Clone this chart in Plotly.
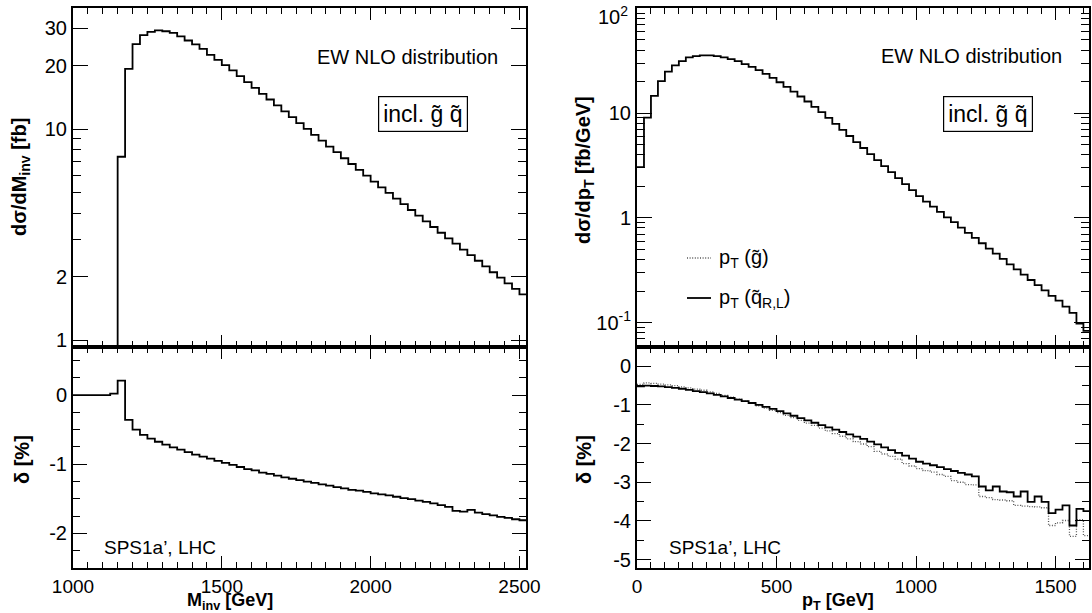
import plotly.graph_objects as go

# ---------------- data ----------------
# left: invariant mass distribution (25 GeV bins, lower edges)
minv_top_lo = list(range(1125, 2525, 25))
minv_top_val = [0.01, 7.4, 19.3, 25.3, 27.9, 28.9, 29.4, 29.1, 28.6, 27.5, 26.3, 25.2, 24.0, 22.5,
                21.3, 20.1, 18.98, 17.84, 16.71, 15.70, 14.71, 13.82, 12.95, 12.13, 11.40, 10.68,
                10.03, 9.40, 8.83, 8.27, 7.78, 7.28, 6.84, 6.41, 6.03, 5.64, 5.30, 4.99, 4.69, 4.41,
                4.14, 3.89, 3.66, 3.44, 3.23, 3.04, 2.87, 2.69, 2.53, 2.38, 2.24, 2.10, 1.98, 1.86,
                1.75, 1.65]
minv_rel_lo = list(range(1000, 2525, 25))
minv_rel_val = [0.0, 0.0, 0.0, 0.0, 0.0, 0.02, 0.21, -0.36, -0.50, -0.575, -0.63, -0.675, -0.715,
                -0.755, -0.79, -0.825, -0.86, -0.89, -0.92, -0.95, -0.98, -1.01, -1.04, -1.07, -1.09,
                -1.12, -1.14, -1.165, -1.19, -1.21, -1.23, -1.25, -1.27, -1.29, -1.31, -1.33, -1.35,
                -1.37, -1.38, -1.40, -1.42, -1.435, -1.45, -1.47, -1.49, -1.505, -1.525, -1.545,
                -1.565, -1.59, -1.615, -1.675, -1.685, -1.66, -1.70, -1.72, -1.74, -1.76, -1.775,
                -1.795, -1.81]
minv_width = 25

# right: pT distribution (25 GeV bins, lower edges)
pt_lo = list(range(0, 1625, 25))
pt_top_val = [3.05, 9.05, 14.6, 20.2, 24.9, 28.5, 31.3, 34.0, 35.0, 35.5,
              35.5, 35.0, 34.0, 32.7, 31.3, 29.3, 27.6, 25.7, 23.7, 21.7,
              19.7, 17.8, 16.05, 14.4, 12.9, 11.45, 10.2, 8.98, 7.87, 6.90,
              6.04, 5.29, 4.64, 4.06, 3.56, 3.12, 2.73, 2.39, 2.10, 1.84,
              1.61, 1.43, 1.28, 1.14, 1.01, 0.908, 0.808, 0.718, 0.643, 0.572,
              0.508, 0.455, 0.405, 0.360, 0.322, 0.287, 0.255, 0.228, 0.203, 0.180,
              0.162, 0.142, 0.124, 0.098, 0.0835]
pt_rel_squark = [-0.52, -0.50, -0.51, -0.52, -0.54, -0.56, -0.58, -0.61, -0.64, -0.67,
                 -0.70, -0.74, -0.78, -0.82, -0.86, -0.90, -0.95, -1.00, -1.05, -1.10,
                 -1.16, -1.22, -1.28, -1.34, -1.40, -1.46, -1.52, -1.58, -1.64, -1.70,
                 -1.76, -1.82, -1.88, -1.95, -2.02, -2.10, -2.17, -2.24, -2.31, -2.39,
                 -2.47, -2.52, -2.56, -2.61, -2.66, -2.71, -2.76, -2.80, -2.85, -3.11,
                 -3.21, -3.11, -3.24, -3.26, -3.37, -3.24, -3.51, -3.37, -3.51, -3.80,
                 -3.71, -3.60, -4.12, -3.69, -3.75]
pt_rel_gluino = [-0.47, -0.43, -0.44, -0.46, -0.48, -0.50, -0.53, -0.56, -0.59, -0.62,
                 -0.66, -0.70, -0.75, -0.80, -0.85, -0.90, -0.96, -1.02, -1.08, -1.14,
                 -1.20, -1.27, -1.33, -1.40, -1.47, -1.53, -1.60, -1.67, -1.74, -1.81,
                 -1.88, -1.95, -2.01, -2.08, -2.20, -2.27, -2.33, -2.40, -2.52, -2.58,
                 -2.65, -2.70, -2.74, -2.80, -2.85, -2.96, -3.00, -3.06, -3.07, -3.37,
                 -3.40, -3.45, -3.46, -3.48, -3.60, -3.62, -3.63, -3.64, -3.66, -4.12,
                 -4.05, -3.99, -4.40, -3.97, -4.38]
pt_width = 25

# tick labels
left_top_ticks = [1, 2, 10, 20, 30]
left_top_ticktext = ["1", "2", "10", "20", "30"]
left_rel_ticks = [0, -1, -2]
left_rel_ticktext = ["0", "-1", "-2"]
minv_ticks = [1000, 1500, 2000, 2500]
pt_ticks = [0, 500, 1000, 1500]
right_top_ticks = [0.1, 1, 10, 100]
right_top_ticktext = ["10<sup>-1</sup>", "1", "10", ""]   # 10^2 drawn below (kept inside page)
right_top_label_100 = "10<sup>2</sup>"
right_rel_ticks = [0, -1, -2, -3, -4, -5]
right_rel_ticktext = ["0", "-1", "-2", "-3", "-4", "-5"]

# ---------------- figure ----------------
W, H = 1092, 613
FONT = "Liberation Sans, Arial, Helvetica, sans-serif"


def px(x):
    return x / W


def py(y):
    return 1 - y / H


def step(lo, vals, width):
    xs = list(lo) + [lo[-1] + width]
    ys = list(vals) + [vals[-1]]
    return xs, ys


DOT = dict(color="#555555", width=1.3, shape="hv", dash="1px,1.6px")

fig = go.Figure()

x, y = step(minv_top_lo, minv_top_val, minv_width)
fig.add_trace(go.Scatter(x=x, y=y, mode="lines", line=dict(color="black", width=1.8, shape="hv"),
                         xaxis="x", yaxis="y", showlegend=False))
x, y = step(minv_rel_lo, minv_rel_val, minv_width)
fig.add_trace(go.Scatter(x=x, y=y, mode="lines", line=dict(color="black", width=1.8, shape="hv"),
                         xaxis="x2", yaxis="y2", showlegend=False))
x, y = step(pt_lo, pt_top_val, pt_width)
fig.add_trace(go.Scatter(x=x, y=y, mode="lines", line=dict(color="black", width=1.8, shape="hv"),
                         xaxis="x3", yaxis="y3", showlegend=False))
x, y = step(pt_lo, pt_rel_gluino, pt_width)
fig.add_trace(go.Scatter(x=x, y=y, mode="lines", line=DOT,
                         xaxis="x4", yaxis="y4", showlegend=False))
x, y = step(pt_lo, pt_rel_squark, pt_width)
fig.add_trace(go.Scatter(x=x, y=y, mode="lines", line=dict(color="black", width=1.8, shape="hv"),
                         xaxis="x4", yaxis="y4", showlegend=False))

LX = [px(73), px(526)]
RX = [px(637), px(1089)]
TY = [py(347), py(8)]
BY = [py(568), py(347)]

base = dict(showline=True, linecolor="black", linewidth=2, mirror="allticks", ticks="inside",
            tickcolor="black", tickwidth=1.3, showgrid=False, zeroline=False, automargin=False,
            tickfont=dict(family=FONT, size=20, color="black"))
XFONT = dict(family=FONT, size=19, color="black")
MINOR = dict(ticks="inside", tickcolor="black", tickwidth=1.2)


def ax(**kw):
    d = dict(base)
    d.update(kw)
    return d


fig.update_layout(
    width=W, height=H, margin=dict(l=0, r=0, t=0, b=0, autoexpand=False),
    paper_bgcolor="white", plot_bgcolor="white", showlegend=False,
    xaxis=ax(domain=LX, range=[1000, 2522], anchor="y", tickvals=minv_ticks, ticklen=12,
             showticklabels=False, minor=dict(dtick=50, tick0=1000, ticklen=6, **MINOR)),
    yaxis=ax(domain=TY, type="log", range=[-0.032, 1.574], anchor="x", tickvals=left_top_ticks,
             ticktext=left_top_ticktext, ticklen=15,
             minor=dict(tickmode="array", tickvals=[3, 4, 5, 6, 7, 8, 9], ticklen=8, **MINOR)),
    xaxis2=ax(domain=LX, range=[1000, 2522], anchor="y2", tickvals=minv_ticks,
              ticktext=[str(v) for v in minv_ticks], ticklen=12, tickfont=XFONT,
              minor=dict(dtick=50, tick0=1000, ticklen=6, **MINOR)),
    yaxis2=ax(domain=BY, range=[-2.5, 0.695], anchor="x2", tickvals=left_rel_ticks,
              ticktext=left_rel_ticktext, ticklen=14,
              minor=dict(dtick=0.25, tick0=0, ticklen=7, **MINOR)),
    xaxis3=ax(domain=RX, range=[0, 1620], anchor="y3", tickvals=pt_ticks, ticklen=12,
              showticklabels=False, minor=dict(dtick=50, tick0=0, ticklen=6, **MINOR)),
    yaxis3=ax(domain=TY, type="log", range=[-1.233, 2.003], anchor="x3", tickvals=right_top_ticks,
              ticktext=right_top_ticktext, ticklen=15,
              minor=dict(tickmode="array",
                         tickvals=[0.06, 0.07, 0.08, 0.09, 0.2, 0.3, 0.4, 0.5, 0.6, 0.7, 0.8, 0.9,
                                   2, 3, 4, 5, 6, 7, 8, 9, 20, 30, 40, 50, 60, 70, 80, 90],
                         ticklen=8, **MINOR)),
    xaxis4=ax(domain=RX, range=[0, 1620], anchor="y4", tickvals=pt_ticks,
              ticktext=[str(v) for v in pt_ticks], ticklen=12, tickfont=XFONT,
              minor=dict(dtick=50, tick0=0, ticklen=6, **MINOR)),
    yaxis4=ax(domain=BY, range=[-5.22, 0.5], anchor="x4", tickvals=right_rel_ticks,
              ticktext=right_rel_ticktext, ticklen=14,
              minor=dict(dtick=0.5, tick0=0, ticklen=7, **MINOR)),
)

ann = []


def text(x, y, s, size=18, angle=0, xanchor="center", **kw):
    ann.append(dict(x=px(x), y=py(y), xref="paper", yref="paper", text=s, showarrow=False,
                    textangle=angle, xanchor=xanchor, yanchor="middle",
                    font=dict(family=FONT, size=size, color="black"), **kw))


# top tick label of the right log axis, nudged down so it stays on the page
text(630, 15, right_top_label_100, size=20, xanchor="right")

# axis titles
text(20, 177, "<b>dσ/dM<sub>inv</sub> [fb]</b>", size=20, angle=-90)
text(22, 460, "<b>δ [%]</b>", size=20, angle=-90)
text(584, 170, "<b>dσ/dp<sub>T</sub> [fb/GeV]</b>", size=20, angle=-90)
text(584, 460, "<b>δ [%]</b>", size=20, angle=-90)
text(230, 601.5, "<b>M<sub>inv</sub> [GeV]</b>", size=18)
text(838, 601.5, "<b>p<sub>T</sub> [GeV]</b>", size=18)

# panel labels
text(407, 57, "EW NLO distribution", size=20)
text(971, 56, "EW NLO distribution", size=20)
for cx in (422.5, 988):
    ann.append(dict(x=px(cx), y=py(114), xref="paper", yref="paper", text="incl. g̃ q̃",
                    showarrow=False, xanchor="center", yanchor="middle",
                    font=dict(family=FONT, size=23, color="black"),
                    bordercolor="black", borderwidth=1.2, borderpad=4, bgcolor="white"))
text(102, 547, "SPS1a’, LHC", size=19, xanchor="left")
text(667, 547, "SPS1a’, LHC", size=19, xanchor="left")

# legend
text(717, 258, "p<sub>T</sub> (g̃)", size=20, xanchor="left")
text(717, 298, "p<sub>T</sub> (q̃<sub>R,L</sub>)", size=20, xanchor="left")
fig.update_layout(annotations=ann, shapes=[
    dict(type="line", xref="paper", yref="paper", x0=px(687), x1=px(711), y0=py(258), y1=py(258),
         line=dict(color="#555555", width=1.3, dash="1px,1.6px")),
    dict(type="line", xref="paper", yref="paper", x0=px(687), x1=px(711), y0=py(298), y1=py(298),
         line=dict(color="black", width=1.8)),
])

fig.write_html("out.html")
